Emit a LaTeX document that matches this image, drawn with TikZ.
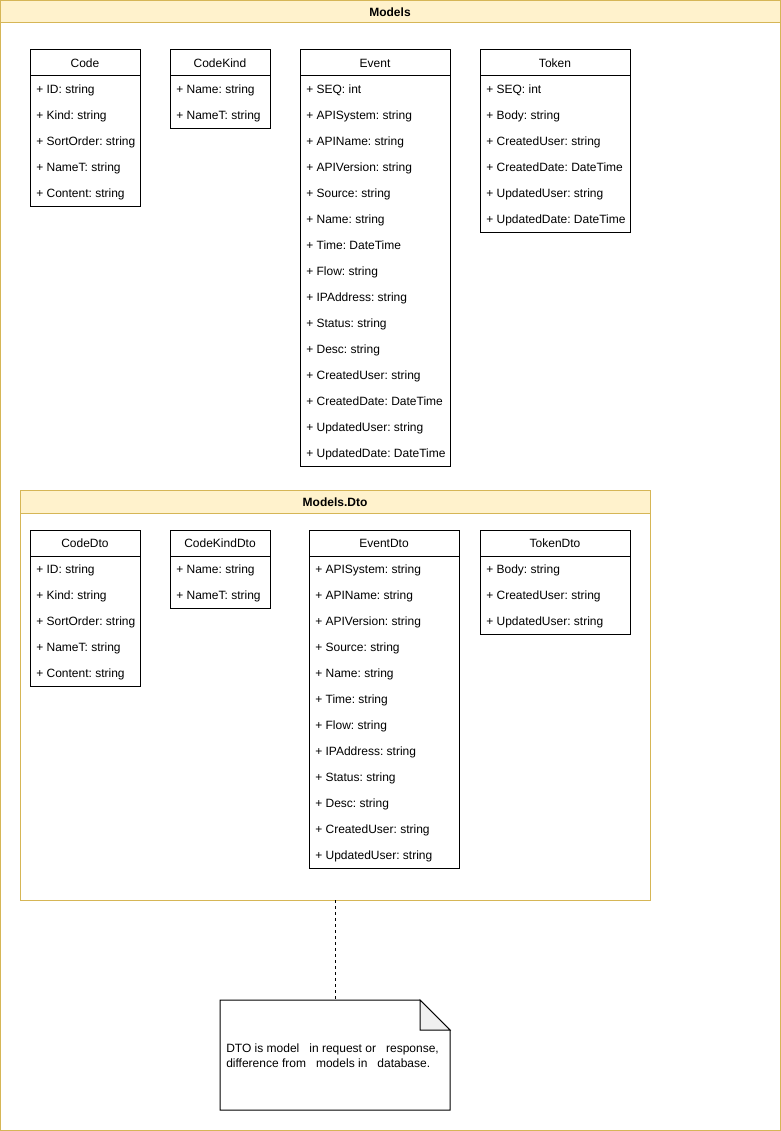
\documentclass[tikz,border=0pt]{standalone}
\usepackage{fontspec}
\setmainfont{Liberation Sans}
\usetikzlibrary{calc}
\frenchspacing
\newlength\px
\setlength\px{0.75pt}
\definecolor{yfill}{HTML}{FFF2CC}
\definecolor{yline}{HTML}{D6B656}
\definecolor{foldgray}{HTML}{F0F0F0}
\tikzset{
  classbox/.style={draw=black, fill=white, line width=0.75pt, anchor=north west, inner sep=0pt, outer sep=0pt},
  rowtext/.style={anchor=base west, inner sep=0pt, font=\fontsize{9}{11}\selectfont\frenchspacing},
  titletext/.style={anchor=base, inner sep=0pt, font=\fontsize{9}{11}\selectfont},
  contbox/.style={draw=yline, fill=white, line width=0.75pt, anchor=north west, inner sep=0pt, outer sep=0pt},
  conthead/.style={draw=yline, fill=yfill, line width=0.75pt},
  conttitle/.style={anchor=center, inner sep=0pt, font=\fontsize{9}{11}\selectfont\bfseries},
  notetext/.style={anchor=west, align=left, inner sep=0pt, font=\fontsize{9}{11.25}\selectfont\frenchspacing},
  dashlink/.style={draw=black, line width=0.75pt, dash pattern=on 2.25pt off 2.25pt}
}
% #1 name, #2 x, #3 y, #4 width, #5 height, #6 title, #7 rows
\newcommand{\umlclass}[7]{%
  \node[classbox, minimum width=#4\px, minimum height=#5\px] (#1) at (#2,#3) {};
  \node[titletext] (#1-title) at ({#2+#4/2},{#3+17.6}) {#6};
  \draw[line width=0.75pt] (#2,{#3+26}) -- ({#2+#4},{#3+26});
  \foreach \r [count=\i] in {#7} {
    \node[rowtext] (#1-r\i) at ({#2+6},{#3+17.2+26*\i}) {\r};
  }%
}
\begin{document}
\begin{tikzpicture}[x=0.75pt, y=-0.75pt]
\useasboundingbox (0,0) rectangle (781,1131);
% outer container
\node[contbox, minimum width=780\px, minimum height=1130\px] (models) at (0.5,0.5) {};
\draw[conthead] (0.5,0.5) rectangle (780.5,23);
\node[conttitle] (models-title) at (390,12.5) {Models};

\umlclass{code}{30}{50}{110}{156}{Code}{+ ID: string,+ Kind: string,+ SortOrder: string,+ NameT: string,+ Content: string}
\umlclass{codekind}{170}{50}{100}{78}{CodeKind}{+ Name: string,+ NameT: string}
\umlclass{event}{300}{50}{150}{416}{Event}{+ SEQ: int,+ APISystem: string,+ APIName: string,+ APIVersion: string,+ Source: string,+ Name: string,+ Time: DateTime,+ Flow: string,+ IPAddress: string,+ Status: string,+ Desc: string,+ CreatedUser: string,+ CreatedDate: DateTime,+ UpdatedUser: string,+ UpdatedDate: DateTime}
\umlclass{token}{480}{50}{150}{182}{Token}{+ SEQ: int,+ Body: string,+ CreatedUser: string,+ CreatedDate: DateTime,+ UpdatedUser: string,+ UpdatedDate: DateTime}

% Dto container
\node[contbox, minimum width=630\px, minimum height=410\px] (dto) at (20,490) {};
\draw[conthead] (20,490) rectangle (650,513);
\node[conttitle] (dto-title) at (335,502) {Models.Dto};

\umlclass{codedto}{30}{530}{110}{156}{CodeDto}{+ ID: string,+ Kind: string,+ SortOrder: string,+ NameT: string,+ Content: string}
\umlclass{codekinddto}{170}{530}{100}{78}{CodeKindDto}{+ Name: string,+ NameT: string}
\umlclass{eventdto}{309}{530}{150}{338}{EventDto}{+ APISystem: string,+ APIName: string,+ APIVersion: string,+ Source: string,+ Name: string,+ Time: string,+ Flow: string,+ IPAddress: string,+ Status: string,+ Desc: string,+ CreatedUser: string,+ UpdatedUser: string}
\umlclass{tokendto}{480}{530}{150}{104}{TokenDto}{+ Body: string,+ CreatedUser: string,+ UpdatedUser: string}

% note
\node[anchor=north west, minimum width=230\px, minimum height=110\px, inner sep=0pt, outer sep=0pt] (note) at (220,1000) {};
\draw[line width=0.75pt, fill=white] (note.north west) -- ($(note.north east)+(-30,0)$) -- ($(note.north east)+(0,30)$) -- (note.south east) -- (note.south west) -- cycle;
\draw[line width=0.75pt, fill=foldgray] ($(note.north east)+(-30,0)$) -- ($(note.north east)+(-30,30)$) -- ($(note.north east)+(0,30)$) -- cycle;
\node[notetext] (note-text) at (226,1056) {DTO is model\ \ \ in request or\ \ \ response,\\difference from\ \ \ models in\ \ \ database.};

\draw[dashlink] (dto.south) -- (note.north);
\end{tikzpicture}
\end{document}
